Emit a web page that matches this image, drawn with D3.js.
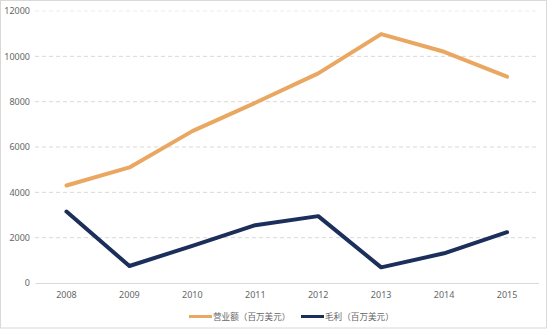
<!DOCTYPE html>
<html>
<head>
<meta charset="utf-8">
<script src="https://cdn.jsdelivr.net/npm/d3@7"></script>
<style>
  html, body { margin: 0; padding: 0; background: #fff; }
  svg { display: block; }
</style>
</head>
<body>
<svg id="chart" width="550" height="330"></svg>
<script>
const years = ["2008", "2009", "2010", "2011", "2012", "2013", "2014", "2015"];
const revenue = [4300, 5100, 6700, 7950, 9250, 10980, 10200, 9100];
const grossProfit = [3150, 750, 1640, 2550, 2950, 690, 1310, 2240];
const yTicks = [0, 2000, 4000, 6000, 8000, 10000, 12000];
const seriesNames = ["营业额（百万美元）", "毛利（百万美元）"];
const seriesColors = ["#E9A762", "#1C2F5B"];

const svg = d3.select("#chart");
const W = 550, H = 330;
const plot = { left: 35, right: 538.5, top: 11, bottom: 283 };

// outer frame
svg.append("rect")
  .attr("x", 0.5).attr("y", 0.5)
  .attr("width", W - 4).attr("height", H - 2.5)
  .attr("fill", "#fff").attr("stroke", "#d9d9d9");

const x = d3.scaleBand().domain(years).range([plot.left, plot.right]);
const y = d3.scaleLinear().domain([0, 12000]).range([plot.bottom, plot.top]);

const font = "'Noto Sans', 'Noto Sans CJK SC', sans-serif";
const textColor = "#666666";

// horizontal dashed gridlines
svg.append("g")
  .selectAll("line")
  .data(yTicks.filter(d => d > 0))
  .join("line")
  .attr("x1", plot.left).attr("x2", plot.right)
  .attr("y1", d => y(d)).attr("y2", d => y(d))
  .attr("stroke", d => d === 12000 ? "#ececec" : "#d9d9d9")
  .attr("stroke-width", 1)
  .attr("stroke-dasharray", "4,3");

// y axis labels
const yAxis = svg.append("g")
  .attr("transform", `translate(${plot.left},0)`)
  .call(d3.axisLeft(y).tickValues(yTicks).tickSize(0).tickPadding(5).tickFormat(d3.format("d")));
yAxis.select(".domain").remove();
yAxis.selectAll("text")
  .attr("fill", textColor)
  .style("font-family", font)
  .style("font-size", "9px");

// x axis
const xAxis = svg.append("g")
  .attr("transform", `translate(0,${plot.bottom})`)
  .call(d3.axisBottom(x).tickSize(0).tickPadding(9));
xAxis.select(".domain").attr("stroke", "#d9d9d9").attr("stroke-width", 1);
xAxis.selectAll("text")
  .attr("fill", textColor)
  .style("font-family", font)
  .style("font-size", "9px");

// lines
const line = d3.line()
  .x((d, i) => x(years[i]) + x.bandwidth() / 2)
  .y(d => y(d));

[revenue, grossProfit].forEach((vals, k) => {
  svg.append("path")
    .datum(vals)
    .attr("d", line)
    .attr("fill", "none")
    .attr("stroke", seriesColors[k])
    .attr("stroke-width", 4)
    .attr("stroke-linejoin", "round")
    .attr("stroke-linecap", "round");
});

// legend
const legendY = 316.5;
const legend = svg.append("g");
const itemX = [189, 301];
seriesNames.forEach((name, k) => {
  const g = legend.append("g").attr("transform", `translate(${itemX[k]},${legendY})`);
  g.append("line")
    .attr("x1", 0).attr("x2", 23)
    .attr("y1", 0).attr("y2", 0)
    .attr("stroke", seriesColors[k])
    .attr("stroke-width", 3);
  g.append("text")
    .attr("x", 24).attr("y", 0)
    .attr("dy", "0.35em")
    .attr("fill", textColor)
    .style("font-family", font)
    .style("font-size", "8.6px")
    .text(name);
});
</script>
</body>
</html>
